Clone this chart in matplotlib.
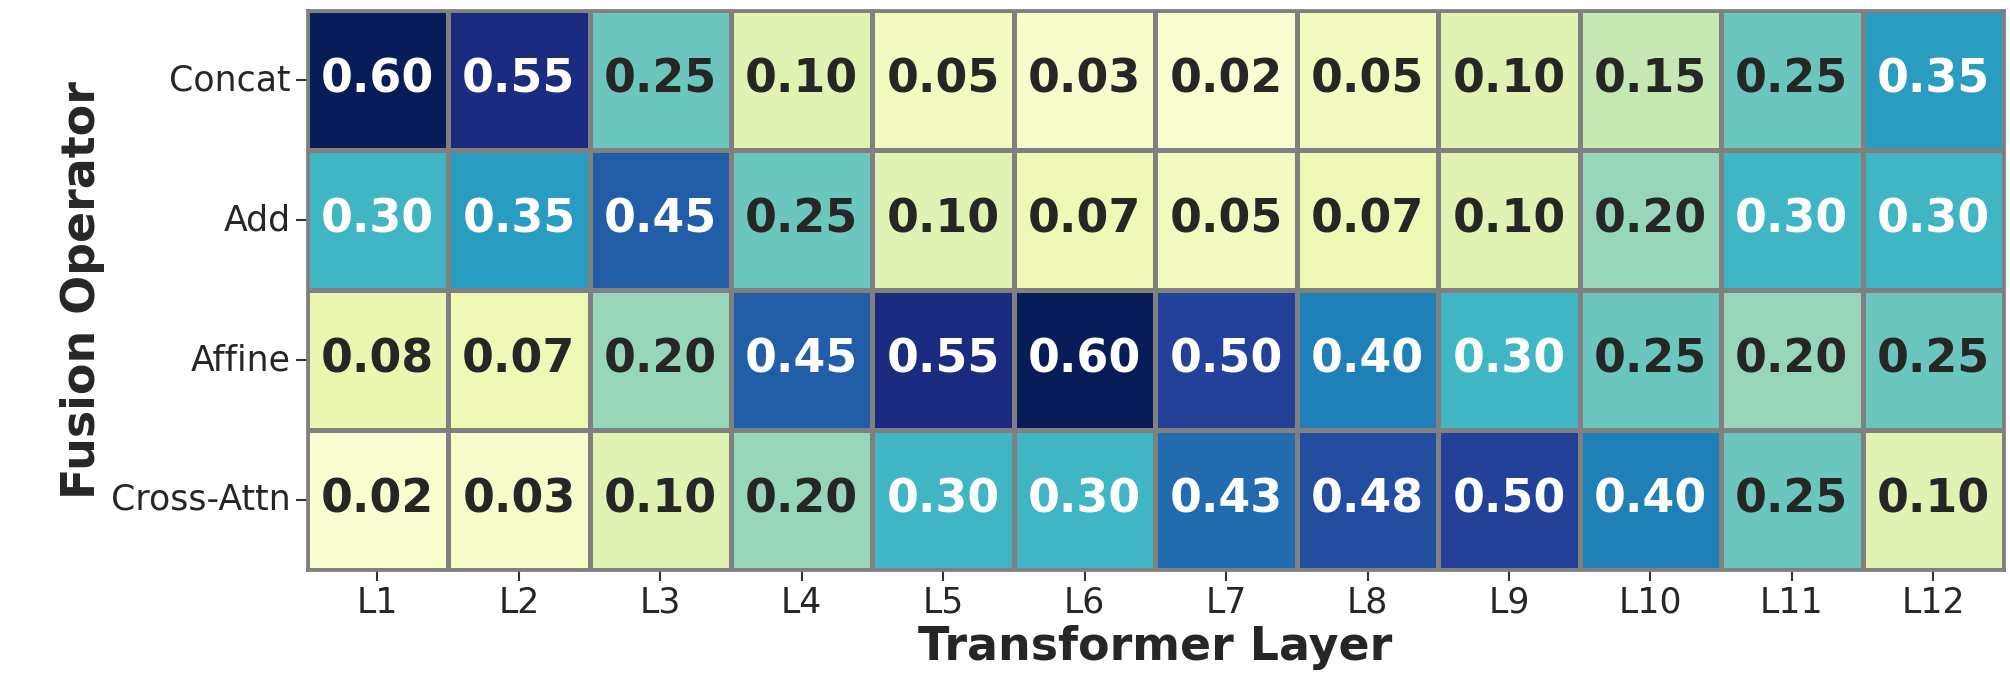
import numpy as np
import matplotlib
matplotlib.use("Agg")
import matplotlib.pyplot as plt
import seaborn as sns

layers = ["L1", "L2", "L3", "L4", "L5", "L6", "L7", "L8", "L9", "L10", "L11", "L12"]
operators = ["Concat", "Add", "Affine", "Cross-Attn"]
concat = [0.60, 0.55, 0.25, 0.10, 0.05, 0.03, 0.02, 0.05, 0.10, 0.15, 0.25, 0.35]
add = [0.30, 0.35, 0.45, 0.25, 0.10, 0.07, 0.05, 0.07, 0.10, 0.20, 0.30, 0.30]
affine = [0.08, 0.07, 0.20, 0.45, 0.55, 0.60, 0.50, 0.40, 0.30, 0.25, 0.20, 0.25]
cross_attn = [0.02, 0.03, 0.10, 0.20, 0.30, 0.30, 0.43, 0.48, 0.50, 0.40, 0.25, 0.10]

data = np.array([concat, add, affine, cross_attn])

sns.set_theme(style="ticks")
plt.rcParams['font.family'] = ['DejaVu Sans']

fig = plt.figure(figsize=(20.1, 6.9), dpi=100)
# axes placed as fractions of the figure
ax = fig.add_axes([0.1526, 1 - 0.826, 0.997 - 0.1526, 0.826 - 0.015])
sns.heatmap(data, ax=ax, cmap="YlGnBu", vmin=0, vmax=0.6, cbar=False,
            annot=True, fmt=".2f", linewidths=2.5, linecolor="gray",
            annot_kws={"fontsize": 33, "fontweight": "bold"},
            xticklabels=layers, yticklabels=operators)
for s in ax.spines.values():
    s.set_visible(True)
    s.set_color("gray")
    s.set_linewidth(2)
ax.tick_params(axis="both", labelsize=25, length=8, width=1.5, color="#333333")
ax.tick_params(axis="y", rotation=0)
ax.set_xlabel("Transformer Layer", fontsize=33, fontweight="bold")
ax.set_ylabel("Fusion Operator", fontsize=33, fontweight="bold")
fig.savefig("out.png", dpi=100)
